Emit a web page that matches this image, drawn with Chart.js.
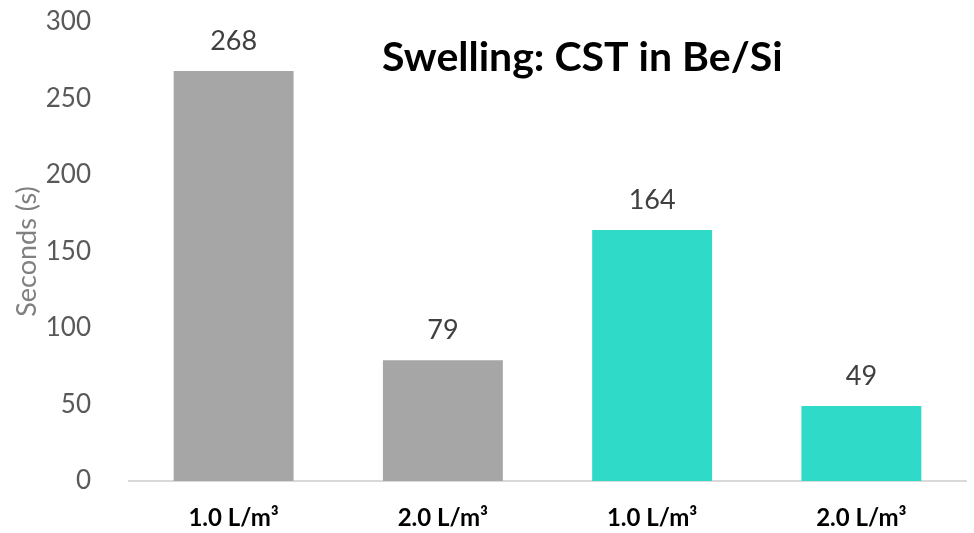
<!DOCTYPE html>
<html>
<head>
<meta charset="utf-8">
<script src="https://cdn.jsdelivr.net/npm/chart.js@4"></script>
<style>
  html, body { margin: 0; padding: 0; background: #fff; }
  #wrap { width: 974px; height: 533px; }
</style>
</head>
<body>
<div id="wrap"><canvas id="chart" width="974" height="533"></canvas></div>
<script>
var categories = ['1.0 L/m³', '2.0 L/m³', '1.0 L/m³', '2.0 L/m³'];
var seconds = [268, 79, 164, 49];
var barColors = ['#A6A6A6', '#A6A6A6', '#30DAC8', '#30DAC8'];
var yTicks = [0, 50, 100, 150, 200, 250, 300];

var FONT = 'Lato, "Open Sans", sans-serif';

// values above each bar
var valueLabels = {
  id: 'valueLabels',
  afterDatasetsDraw(chart) {
    var ctx = chart.ctx;
    var meta = chart.getDatasetMeta(0);
    ctx.save();
    ctx.font = '27px ' + FONT;
    ctx.fillStyle = '#404040';
    ctx.textAlign = 'center';
    ctx.textBaseline = 'middle';
    meta.data.forEach(function (bar, i) {
      ctx.fillText(seconds[i], bar.x, bar.y - 30);
    });
    ctx.restore();
  }
};

// title sits inside the plot, not above it
var insideTitle = {
  id: 'insideTitle',
  afterDraw(chart) {
    var ctx = chart.ctx;
    ctx.save();
    ctx.font = 'bold 41px ' + FONT;
    ctx.fillStyle = '#000';
    ctx.textAlign = 'left';
    ctx.textBaseline = 'middle';
    ctx.fillText('Swelling: CST in Be/Si', 382, 58);
    ctx.restore();
  }
};

new Chart(document.getElementById('chart'), {
  type: 'bar',
  data: {
    labels: categories,
    datasets: [{
      label: 'Seconds',
      data: seconds,
      backgroundColor: barColors,
      borderWidth: 0,
      categoryPercentage: 1,
      barPercentage: 0.573
    }]
  },
  options: {
    responsive: false,
    animation: false,
    devicePixelRatio: 1,
    layout: { padding: { top: 0, right: 8, left: 0, bottom: 0 } },
    plugins: {
      legend: { display: false },
      tooltip: { enabled: false },
      title: { display: false }
    },
    scales: {
      y: {
        min: 0,
        max: 300,
        afterFit: function (s) {
          s.width = 129;
          s.paddingTop = 22;
          s.paddingBottom = 0;
        },
        afterBuildTicks: function (s) { s.ticks = yTicks.map(function (v) { return { value: v }; }); },
        grid: { display: false },
        border: { display: false },
        ticks: {
          color: '#595959',
          font: { family: FONT, size: 26 },
          padding: 30
        },
        title: {
          display: true,
          text: 'Seconds (s)',
          color: '#808080',
          font: { family: FONT, size: 27 },
          padding: { top: 11, bottom: 0 }
        }
      },
      x: {
        afterFit: function (s) { s.height = 52; },
        grid: { display: false },
        border: { display: true, color: '#D9D9D9', width: 2 },
        ticks: {
          color: '#000',
          font: { family: FONT, size: 24, weight: 'bold' },
          padding: 15
        }
      }
    }
  },
  plugins: [valueLabels, insideTitle]
});
</script>
</body>
</html>
